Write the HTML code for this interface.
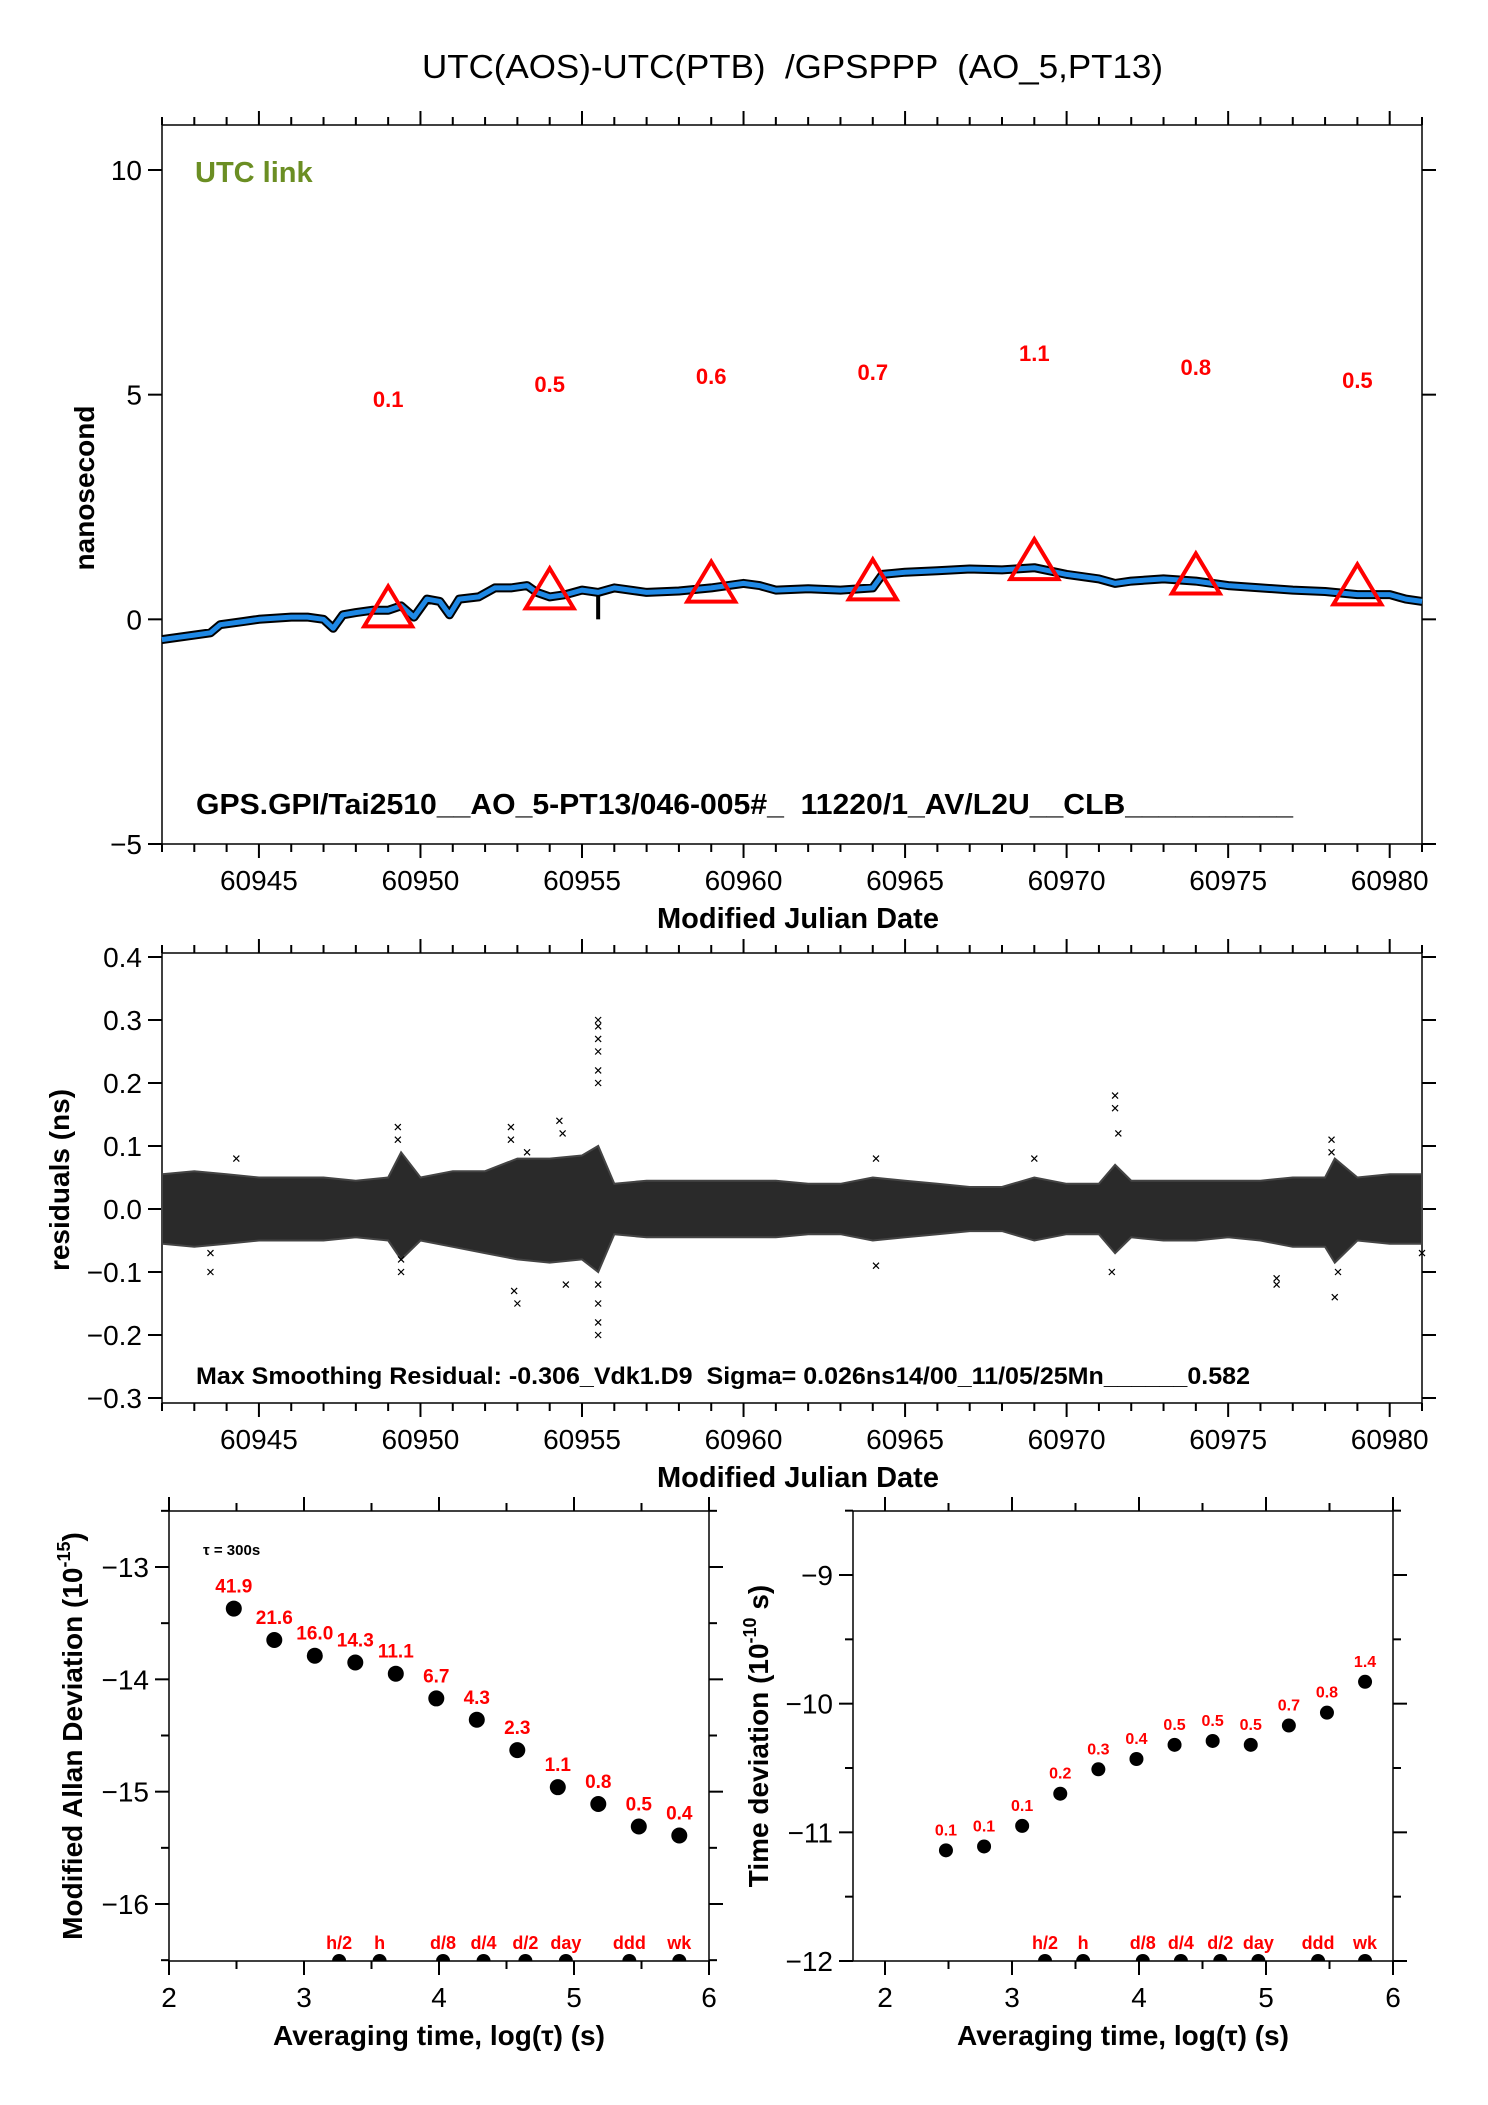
<!DOCTYPE html>
<html><head><meta charset="utf-8"><style>
html,body{margin:0;padding:0;background:#fff;}
svg{display:block;font-family:"Liberation Sans",Arial,sans-serif;}
text{white-space:pre;}
</style></head><body>
<svg id="c" width="1488" height="2105" viewBox="0 0 1488 2105" xmlns="http://www.w3.org/2000/svg" xml:space="preserve">
<text x="422" y="78" font-size="33" textLength="741" lengthAdjust="spacingAndGlyphs">UTC(AOS)-UTC(PTB)  /GPSPPP  (AO_5,PT13)</text>
<g id="top"></g>
<g id="mid"></g>
<g id="bl"></g>
<g id="br"></g>
</svg>
<script>
// ---- top panel data ----
const topDays=[60942.0,60942.5,60943,60943.5,60943.8,60944.5,60945,60946,60946.5,60947,60947.3,60947.6,60948,60948.5,60949,60949.4,60949.8,60950.2,60950.6,60950.9,60951.2,60951.8,60952.3,60952.8,60953.3,60953.6,60954,60954.5,60955,60955.5,60956,60957,60958,60959,60960,60960.5,60961,60962,60963,60964,60964.3,60965,60966,60967,60968,60969,60970,60971,60971.5,60972,60973,60974,60975,60976,60977,60978,60979,60980,60980.5,60981];
const topVals=[-0.45,-0.4,-0.35,-0.3,-0.12,-0.05,0.0,0.05,0.05,0.0,-0.2,0.1,0.15,0.2,0.2,0.3,0.05,0.45,0.4,0.1,0.45,0.5,0.7,0.7,0.75,0.6,0.5,0.55,0.65,0.6,0.7,0.6,0.63,0.7,0.8,0.75,0.65,0.68,0.65,0.7,1.0,1.05,1.08,1.12,1.1,1.15,1.0,0.9,0.8,0.85,0.9,0.85,0.75,0.7,0.65,0.62,0.55,0.55,0.45,0.4];
const triDays=[60949,60954,60959,60964,60969,60974,60979];
const triVals=[0.2,0.6,0.75,0.8,1.25,0.93,0.69];
const triLabels=["0.1","0.5","0.6","0.7","1.1","0.8","0.5"];
const triLabelY=[4.9,5.24,5.42,5.51,5.93,5.62,5.33];
const mjdTicks=[60945,60950,60955,60960,60965,60970,60975,60980];
const nsTicks=[10,5,0,-5];
// ---- residual data ----
const resDays=[60942,60943,60944,60945,60946,60947,60948,60949,60949.4,60950,60951,60952,60953,60954,60955,60955.5,60956,60957,60958,60959,60960,60961,60962,60963,60964,60965,60966,60967,60968,60969,60970,60971,60971.5,60972,60973,60974,60975,60976,60977,60978,60978.3,60979,60980,60981];
const resHi=[0.055,0.06,0.055,0.05,0.05,0.05,0.045,0.05,0.09,0.05,0.06,0.06,0.08,0.08,0.085,0.1,0.04,0.045,0.045,0.045,0.045,0.045,0.04,0.04,0.05,0.045,0.04,0.035,0.035,0.05,0.04,0.04,0.07,0.045,0.045,0.045,0.045,0.045,0.05,0.05,0.08,0.05,0.055,0.055];
const resLo=[-0.055,-0.06,-0.055,-0.05,-0.05,-0.05,-0.045,-0.05,-0.08,-0.05,-0.06,-0.07,-0.08,-0.085,-0.08,-0.1,-0.04,-0.045,-0.045,-0.045,-0.045,-0.045,-0.04,-0.04,-0.05,-0.045,-0.04,-0.035,-0.035,-0.05,-0.04,-0.04,-0.07,-0.045,-0.05,-0.05,-0.045,-0.05,-0.06,-0.06,-0.085,-0.05,-0.055,-0.055];
const outDays=[60943.5,60943.5,60944.3,60949.3,60949.3,60949.4,60949.4,60952.8,60952.8,60952.9,60953,60953.3,60954.3,60954.4,60954.5,60955.5,60955.5,60955.5,60955.5,60955.5,60955.5,60955.5,60955.5,60955.5,60955.5,60964.1,60964.1,60969,60971.5,60971.5,60971.6,60971.4,60976.5,60976.5,60978.2,60978.2,60978.3,60978.4,60981];
const outVals=[-0.1,-0.07,0.08,0.13,0.11,-0.1,-0.08,0.13,0.11,-0.13,-0.15,0.09,0.14,0.12,-0.12,0.30,0.29,0.27,0.25,0.22,0.2,-0.12,-0.15,-0.18,-0.2,0.08,-0.09,0.08,0.18,0.16,0.12,-0.1,-0.11,-0.12,0.11,0.09,-0.14,-0.1,-0.07];
const resTicks=[0.4,0.3,0.2,0.1,0.0,-0.1,-0.2,-0.3];
// ---- deviation data ----
const logTau=[2.48,2.78,3.08,3.38,3.68,3.98,4.28,4.58,4.88,5.18,5.48,5.78];
const mdevVals=[-13.37,-13.65,-13.79,-13.85,-13.95,-14.17,-14.36,-14.63,-14.96,-15.11,-15.31,-15.39];
const mdevLabels=["41.9","21.6","16.0","14.3","11.1","6.7","4.3","2.3","1.1","0.8","0.5","0.4"];
const tdevVals=[-11.14,-11.11,-10.95,-10.70,-10.51,-10.43,-10.32,-10.29,-10.32,-10.17,-10.07,-9.83];
const tdevLabels=["0.1","0.1","0.1","0.2","0.3","0.4","0.5","0.5","0.5","0.7","0.8","1.4"];
const markTau=[3.26,3.56,4.03,4.33,4.64,4.94,5.41,5.78];
const markLabels=["h/2","h","d/8","d/4","d/2","day","ddd","wk"];
const xTicksDev=[2,3,4,5,6];
const mdevTicks=[-13,-14,-15,-16];
const tdevTicks=[-9,-10,-11,-12];

const NS="http://www.w3.org/2000/svg";
function mk(p,tag,at,txt){const e=document.createElementNS(NS,tag);for(const k in at)e.setAttribute(k,at[k]);if(txt!==undefined)e.textContent=txt;p.appendChild(e);return e;}
function lin(d0,d1,r0,r1){return v=>r0+(v-d0)*(r1-r0)/(d1-d0);}

// ===== TOP =====
(function(){
 const g=document.getElementById('top');
 const L=162,R=1422,T=125,B=844;
 const X=lin(60942,60981,L,R), Y=lin(10,-5,170,844);
 const fr=mk(g,'rect',{x:L,y:T,width:R-L,height:B-T,fill:'none',stroke:'#000','stroke-width':1.5});
 
 for(let d=60942;d<=60981;d++){const maj=d%5==0;const len=maj?14:8;
  mk(g,'line',{x1:X(d),y1:B,x2:X(d),y2:B+len,stroke:'#000','stroke-width':2});
  mk(g,'line',{x1:X(d),y1:T,x2:X(d),y2:T-len,stroke:'#000','stroke-width':2});}
 mjdTicks.forEach(d=>{const t=mk(g,'text',{x:X(d),y:B+46,'font-size':28,'text-anchor':'middle'},String(d));
  });
 nsTicks.forEach(v=>{mk(g,'line',{x1:L-14,y1:Y(v),x2:L,y2:Y(v),stroke:'#000','stroke-width':2});
  mk(g,'line',{x1:R,y1:Y(v),x2:R+14,y2:Y(v),stroke:'#000','stroke-width':2});
  const t=mk(g,'text',{x:L-20,y:Y(v)+10,'font-size':28,'text-anchor':'end'},v<0?'\u2212'+(-v):String(v));
  });
 const pts=topDays.map((d,i)=>X(d).toFixed(1)+','+Y(topVals[i]).toFixed(1)).join(' ');
 const bl=mk(g,'polyline',{points:pts,fill:'none',stroke:'#000','stroke-width':9,'stroke-linejoin':'round'});
 
 const sp=mk(g,'line',{x1:X(60955.5),y1:Y(0.6),x2:X(60955.5),y2:Y(0.0),stroke:'#000','stroke-width':4});
 
 const bu=mk(g,'polyline',{points:pts,fill:'none',stroke:'#1e88e5','stroke-width':5,'stroke-linejoin':'round'});
 
 triDays.forEach((d,i)=>{const cx=X(d),cy=Y(triVals[i]);
  const p=mk(g,'polygon',{points:`${cx},${cy-24} ${cx-24},${cy+16} ${cx+24},${cy+16}`,fill:'none',stroke:'#f00','stroke-width':4});
  
  const t=mk(g,'text',{x:cx,y:Y(triLabelY[i])+8,'font-size':22,'font-weight':'bold',fill:'#f00','text-anchor':'middle'},triLabels[i]);
  });
 let t=mk(g,'text',{x:195,y:182,'font-size':29,'font-weight':'bold',fill:'#6b8e23'},'UTC link');
 
 t=mk(g,'text',{x:196,y:814,'font-size':29,'font-weight':'bold',textLength:1097,lengthAdjust:'spacingAndGlyphs'},'GPS.GPI/Tai2510__AO_5-PT13/046-005#_  11220/1_AV/L2U__CLB__________');
 
 t=mk(g,'text',{x:798,y:928,'font-size':29,'font-weight':'bold','text-anchor':'middle'},'Modified Julian Date');
 
 t=mk(g,'text',{x:0,y:0,'font-size':28,'font-weight':'bold','text-anchor':'middle',transform:'translate(94,488) rotate(-90)'},'nanosecond');
 
})();

// ===== MID =====
(function(){
 const g=document.getElementById('mid');
 const L=162,R=1422,T=953,B=1403;
 const X=lin(60942,60981,L,R), Y=lin(0.4,-0.3,957,1398);
 const fr=mk(g,'rect',{x:L,y:T,width:R-L,height:B-T,fill:'none',stroke:'#000','stroke-width':1.5});
 
 for(let d=60942;d<=60981;d++){const maj=d%5==0;const len=maj?14:8;
  mk(g,'line',{x1:X(d),y1:B,x2:X(d),y2:B+len,stroke:'#000','stroke-width':2});
  mk(g,'line',{x1:X(d),y1:T,x2:X(d),y2:T-len,stroke:'#000','stroke-width':2});}
 mjdTicks.forEach(d=>{const t=mk(g,'text',{x:X(d),y:B+46,'font-size':28,'text-anchor':'middle'},String(d));
  });
 resTicks.forEach(v=>{mk(g,'line',{x1:L-14,y1:Y(v),x2:L,y2:Y(v),stroke:'#000','stroke-width':2});
  mk(g,'line',{x1:R,y1:Y(v),x2:R+14,y2:Y(v),stroke:'#000','stroke-width':2});
  const s=v<0?'\u2212'+(-v).toFixed(1):v.toFixed(1);
  const t=mk(g,'text',{x:L-20,y:Y(v)+10,'font-size':28,'text-anchor':'end'},s);
  });
 const up=resDays.map((d,i)=>X(d).toFixed(1)+','+Y(resHi[i]).toFixed(1));
 const dn=resDays.map((d,i)=>X(d).toFixed(1)+','+Y(resLo[i]).toFixed(1)).reverse();
 const band=mk(g,'polygon',{points:up.concat(dn).join(' '),fill:'#2a2a2a',stroke:'#444','stroke-width':2});
 
 outDays.forEach((d,i)=>{const x=X(d),y=Y(outVals[i]);
  const p=mk(g,'path',{d:`M${x-3},${y-3}L${x+3},${y+3}M${x-3},${y+3}L${x+3},${y-3}`,stroke:'#000','stroke-width':1.2});
  });
 let t=mk(g,'text',{x:196,y:1384,'font-size':24,'font-weight':'bold',textLength:1054,lengthAdjust:'spacingAndGlyphs'},'Max Smoothing Residual: -0.306_Vdk1.D9  Sigma= 0.026ns14/00_11/05/25Mn______0.582');
 
 t=mk(g,'text',{x:798,y:1487,'font-size':29,'font-weight':'bold','text-anchor':'middle'},'Modified Julian Date');
 
 t=mk(g,'text',{x:0,y:0,'font-size':28,'font-weight':'bold','text-anchor':'middle',transform:'translate(69,1180) rotate(-90)'},'residuals (ns)');
 
})();

// ===== DEVIATION PANELS =====
function devPanel(id,L,R,x2,x6,yA,yAv,yB,yBv,vals,labels,ticks,lblSize,dotR,name){
 const g=document.getElementById(id);
 const T=1511,B=1961;
 const X=lin(2,6,x2,x6), Y=lin(yAv,yBv,yA,yB);
 const fr=mk(g,'rect',{x:L,y:T,width:R-L,height:B-T,fill:'none',stroke:'#000','stroke-width':1.5});
 
 for(let v=2;v<=6.001;v+=0.5){const maj=Math.abs(v-Math.round(v))<1e-6;const len=maj?14:8;
  mk(g,'line',{x1:X(v),y1:B,x2:X(v),y2:B+len,stroke:'#000','stroke-width':2});
  mk(g,'line',{x1:X(v),y1:T,x2:X(v),y2:T-len,stroke:'#000','stroke-width':2});}
 xTicksDev.forEach(v=>{const t=mk(g,'text',{x:X(v),y:B+46,'font-size':28,'text-anchor':'middle'},String(v));
  });
 for(let v=ticks[ticks.length-1]-0.5;v<=ticks[0]+0.5;v+=0.5){const yy=Y(v);if(yy<T-1||yy>B+1)continue;
  const maj=Math.abs(v-Math.round(v))<1e-6;
  mk(g,'line',{x1:L-(maj?14:8),y1:yy,x2:L,y2:yy,stroke:'#000','stroke-width':2});
  mk(g,'line',{x1:R,y1:yy,x2:R+(maj?14:8),y2:yy,stroke:'#000','stroke-width':2});}
 ticks.forEach(v=>{const t=mk(g,'text',{x:L-20,y:Y(v)+10,'font-size':28,'text-anchor':'end'},'\u2212'+(-v));
  });
 logTau.forEach((lt,i)=>{const cx=X(lt),cy=Y(vals[i]);
  const c=mk(g,'circle',{cx:cx,cy:cy,r:dotR,fill:'#000'});
  
  const t=mk(g,'text',{x:cx,y:cy-dotR-8,'font-size':lblSize,'font-weight':'bold',fill:'#f00','text-anchor':'middle'},labels[i]);
  });
 markTau.forEach((lt,i)=>{const cx=X(lt);
  const c=mk(g,'path',{d:`M${cx-7},${B}A7,7 0 0 1 ${cx+7},${B}Z`,fill:'#000'});
  
  const t=mk(g,'text',{x:cx,y:B-12,'font-size':18,'font-weight':'bold',fill:'#f00','text-anchor':'middle'},markLabels[i]);
  });
 let t=mk(g,'text',{x:(L+R)/2,y:2045,'font-size':28,'font-weight':'bold','text-anchor':'middle'},'Averaging time, log(\u03c4) (s)');
 
 return {g,X,Y};
}
(function(){
 const r=devPanel('bl',169,709,169,709,1567,-13,1904,-16,mdevVals,mdevLabels,mdevTicks,19,8,'mdev');
 let t=mk(r.g,'text',{x:203,y:1555,'font-size':15,'font-weight':'bold'},'\u03c4 = 300s');
 
 t=mk(r.g,'text',{x:0,y:0,'font-size':28,'font-weight':'bold','text-anchor':'middle',transform:'translate(82,1736) rotate(-90)'});
 
 t.innerHTML='Modified Allan Deviation (10<tspan font-size="18" dy="-12">-15</tspan><tspan dy="12">)</tspan>';
 const r2=devPanel('br',853,1393,885,1393,1575,-9,1961,-12,tdevVals,tdevLabels,tdevTicks,16,7,'tdev');
 t=mk(r2.g,'text',{x:0,y:0,'font-size':28,'font-weight':'bold','text-anchor':'middle',transform:'translate(768,1736) rotate(-90)'});
 
 t.innerHTML='Time deviation (10<tspan font-size="18" dy="-12">-10</tspan><tspan dy="12"> s)</tspan>';
})();
</script>
</body></html>
